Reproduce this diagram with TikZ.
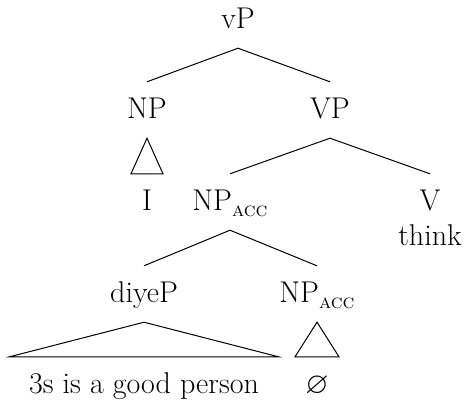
\documentclass[tikz,border=0pt]{standalone}
\usepackage{amssymb}
\newcommand{\casemark}[1]{\raisebox{-6pt}{\fontsize{20}{20}\selectfont\textsc{#1}}}
\begin{document}
\begin{tikzpicture}[x=1pt,y=-1pt,
  lbl/.style={font=\fontsize{30}{35}\selectfont, text height=20pt, text depth=4pt,
              inner xsep=0pt, inner ysep=16pt, anchor=base},
  branch/.style={line width=1pt},
]
\useasboundingbox (0,0) rectangle (466,402);

% labels of the tree
\node[lbl] (vP)     at (238,28)  {vP};
\node[lbl] (NP)     at (147,118) {NP};
\node[lbl] (VP)     at (330,118) {VP};
\node[lbl] (I)      at (147,210) {I};
\node[lbl] (NPacc)  at (230,210) {NP\casemark{acc}};
\node[lbl] (V)      at (430,210) {V};
\node[lbl] (think)  at (430,245) {think};
\node[lbl] (diyeP)  at (144,302) {diyeP};
\node[lbl] (NPaccB) at (317,302) {NP\casemark{acc}};
\node[lbl] (clause) at (144,393) {3s is a good person};
\node[lbl] (null)   at (317,393) {$\varnothing$};

% branches
\draw[branch] (vP.south) -- (NP.north);
\draw[branch] (vP.south) -- (VP.north);
\draw[branch] (VP.south) -- (NPacc.north);
\draw[branch] (VP.south) -- (V.north);
\draw[branch] (NPacc.south) -- (diyeP.north);
\draw[branch] (NPacc.south) -- (NPaccB.north);

% roofs over unanalysed constituents
\draw[branch] (NP.south) -- ([xshift=-16pt]I.north) -- ([xshift=16pt]I.north) -- cycle;
\draw[branch] (diyeP.south) -- ([xshift=-134.5pt]clause.north) -- ([xshift=134.5pt]clause.north) -- cycle;
\draw[branch] (NPaccB.south) -- ([xshift=-22pt]null.north) -- ([xshift=22pt]null.north) -- cycle;
\end{tikzpicture}
\end{document}
